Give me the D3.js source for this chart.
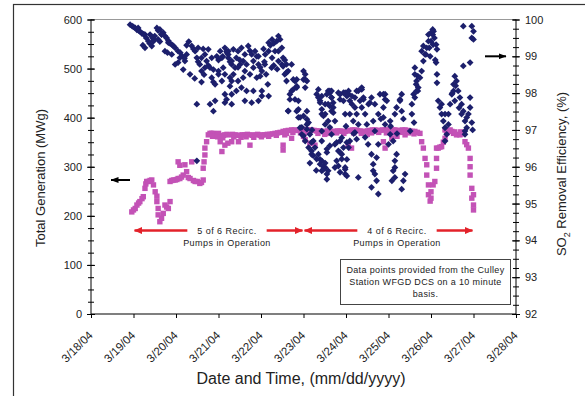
<!DOCTYPE html>
<html>
<head>
<meta charset="utf-8">
<script src="https://cdn.jsdelivr.net/npm/d3@7"></script>
<style>
  body { margin: 0; background: #fff; }
  svg { display: block; font-family: "Liberation Sans", Arial, sans-serif; }
</style>
</head>
<body>
<svg id="chart" width="585" height="396"></svg>
<script>
// ---- data ----
const dateTicks = ["3/18/04", "3/19/04", "3/20/04", "3/21/04", "3/22/04", "3/23/04",
                   "3/24/04", "3/25/04", "3/26/04", "3/27/04", "3/28/04"];
const genTicks = [0, 100, 200, 300, 400, 500, 600];
const so2Ticks = [92, 93, 94, 95, 96, 97, 98, 99, 100];

// [days since 3/18/04 00:00, MWg]
const generation = [
  [0.96,208],[1.00,212],[1.04,215],[1.08,222],[1.12,226],[1.15,229],[1.20,235],[1.23,239],[1.27,256],[1.29,265],
  [1.31,270],[1.35,270],[1.39,272],[1.43,273],[1.47,263],[1.51,249],[1.55,240],[1.55,229],[1.58,215],[1.58,202],
  [1.62,188],[1.66,195],[1.70,205],[1.74,222],[1.78,218],[1.82,215],[1.86,229],[1.86,270],[1.90,272],[1.94,273],
  [1.98,273],[2.02,274],[2.05,276],[2.09,276],[2.13,279],[2.17,283],[2.05,310],[2.09,303],[2.21,304],[2.25,290],
  [2.29,278],[2.33,276],[2.37,310],[2.41,272],[2.45,270],[2.50,270],[2.56,266],[2.60,268],[2.64,273],[2.64,297],
  [2.66,310],[2.68,324],[2.68,338],[2.72,351],[2.76,365],[2.80,368],[2.84,368],[2.88,368],[2.92,367],[2.96,366],
  [3.00,368],[3.04,351],[3.08,361],[3.08,331],[3.12,364],[3.15,365],[3.15,344],[3.20,366],[3.22,348],[3.27,365],
  [3.31,351],[3.33,366],[3.39,365],[3.45,364],[3.47,351],[3.50,364],[3.56,365],[3.62,365],[3.68,366],[3.74,365],
  [3.74,344],[3.80,364],[3.86,365],[3.92,366],[3.98,364],[4.04,365],[4.09,365],[4.15,366],[4.21,366],[4.27,367],
  [4.33,368],[4.39,369],[4.45,370],[4.52,372],[4.52,344],[4.52,334],[4.56,365],[4.58,373],[4.64,374],[4.72,375],
  [4.72,358],[4.78,375],[4.84,374],[4.90,375],[4.96,375],[5.00,362],[5.02,376],[5.04,355],[5.08,374],[5.13,375],
  [5.15,348],[5.19,375],[5.25,374],[5.27,344],[5.31,373],[5.37,373],[5.43,372],[5.50,366],[5.51,372],[5.57,373],
  [5.62,373],[5.68,372],[5.74,372],[5.80,373],[5.86,373],[5.92,372],[5.98,372],[6.04,373],[6.05,344],[6.09,374],
  [6.13,338],[6.15,375],[6.21,375],[6.27,374],[6.33,373],[6.39,372],[6.45,372],[6.50,366],[6.51,373],[6.56,374],
  [6.62,375],[6.68,375],[6.74,374],[6.80,374],[6.86,375],[6.88,351],[6.92,375],[6.92,338],[6.98,375],[7.04,376],
  [7.08,358],[7.10,375],[7.15,375],[7.20,362],[7.21,374],[7.27,374],[7.33,375],[7.39,375],[7.39,365],[7.45,374],
  [7.50,373],[7.56,372],[7.62,372],[7.68,370],[7.74,368],[7.78,351],[7.82,338],[7.86,317],[7.90,304],[7.90,283],
  [7.94,263],[7.94,243],[7.98,230],[8.00,236],[8.00,249],[8.05,263],[8.09,270],[8.13,297],[8.13,317],[8.13,338],
  [8.17,338],[8.21,340],[8.25,341],[8.29,350],[8.33,358],[8.33,375],[8.39,374],[8.45,375],[8.49,372],[8.53,368],
  [8.60,365],[8.64,366],[8.68,365],[8.72,367],[8.76,368],[8.80,351],[8.84,345],[8.88,338],[8.92,317],[8.92,300],
  [8.92,283],[8.96,256],[8.96,236],[9.00,222],[9.00,243],[9.00,212],
  [2.86,362],[2.98,361],[3.10,359],[3.36,361],[3.53,360],[3.65,361],[3.83,360],[4.01,361],[4.18,362],[4.36,364],
  [4.60,368],[4.75,370],[4.93,369],[5.10,370],[5.34,368],[5.60,368],[5.78,369],[5.95,368],[6.18,369],[6.36,368],
  [6.60,369],[6.77,370],[6.95,369],[7.13,369],[7.30,370],[7.48,369],[7.60,367],[8.37,369],[8.56,371],[8.70,371]
];

// [days since 3/18/04 00:00, SO2 removal %]
const so2Efficiency = [
  [0.92,99.86],[0.97,99.82],[1.00,99.80],[1.04,99.77],[1.08,99.72],[1.12,99.70],[1.15,99.68],[1.20,99.62],[1.24,99.60],[1.27,99.59],
  [1.30,99.50],[1.35,99.41],[1.27,99.23],[1.22,99.30],[1.43,99.28],[1.38,99.35],[1.48,99.45],[1.55,99.77],[1.58,99.70],[1.62,99.73],
  [1.66,99.60],[1.70,99.64],[1.74,99.55],[1.78,99.50],[1.58,99.46],[1.62,99.40],[1.82,99.42],[1.86,99.35],[1.90,99.32],[1.94,99.28],
  [1.98,99.23],[1.74,99.14],[1.80,99.10],[1.90,99.05],[1.98,98.78],[2.05,98.83],[2.21,98.87],[1.50,99.55],[1.45,99.50],
  [1.11,99.77],[1.39,99.59],[1.47,99.41],[1.66,99.59],[1.82,99.37],[2.05,99.14],[2.09,98.96],[2.17,98.64],[2.25,99.05],
  [2.10,99.10],[2.15,99.00],[2.20,98.95],[2.37,99.28],[2.41,99.20],[2.45,99.14],[2.49,98.96],[2.52,98.85],[2.56,98.78],[2.60,98.60],
  [2.33,98.51],[2.64,99.20],[2.68,99.05],[2.72,98.87],[2.76,98.75],[2.80,98.69],[2.84,98.42],[2.88,98.30],[2.92,98.24],[2.49,97.70],
  [2.80,97.70],[2.92,97.79],[2.88,97.51],[3.15,97.97],[3.31,97.70],[3.15,97.74],[3.04,99.14],[3.10,99.00],[3.15,99.23],[3.20,99.10],
  [3.23,98.96],[3.27,98.85],[3.31,98.78],[3.35,98.51],[3.15,98.51],[3.08,98.33],[3.31,98.33],[3.00,98.90],[2.96,99.00],[3.00,98.60],
  [2.49,96.16],[2.30,99.40],[2.25,99.30],[2.44,98.40],[2.60,98.30],[2.66,98.50],
  [2.52,99.23],[2.60,98.96],[2.68,98.69],[2.76,99.19],[2.84,98.96],[2.88,98.64],[3.00,98.51],[3.08,98.96],[3.11,98.69],[3.23,99.14],
  [3.23,99.05],[3.31,98.87],[3.46,99.14],[3.54,99.23],[3.39,98.69],[3.27,98.42],[3.31,97.97],[3.42,98.06],[3.54,98.15],[3.62,97.79],
  [3.78,97.74],[3.94,97.79],[4.02,97.92],[4.18,97.92],[3.82,98.06],[3.66,98.06],[3.70,99.28],[3.74,99.15],[3.78,99.05],[3.86,99.14],
  [3.90,99.00],[3.94,98.78],[3.98,98.70],[4.02,98.60],[4.12,98.51],[4.16,98.24],[3.90,98.42],[3.74,98.51],[3.62,98.60],[3.58,98.87],
  [3.50,98.90],[3.46,98.70],[4.18,99.37],[4.22,99.30],[4.26,99.46],[4.30,99.35],[4.37,99.41],[4.45,99.46],[4.41,99.55],[4.49,99.23],
  [4.33,99.14],[4.52,98.96],[4.56,98.90],[4.60,98.78],[4.64,98.60],[4.26,98.96],[4.41,98.87],[4.06,99.20],[4.10,99.05],[4.30,98.75],
  [4.38,98.65],[4.08,98.85],
  [3.19,99.14],[3.35,99.19],[3.42,98.96],[3.51,98.78],[3.62,99.05],[3.66,98.78],[3.82,98.87],[3.82,98.69],[3.94,99.00],[3.98,98.46],
  [4.09,98.78],[4.25,98.69],[4.18,99.14],[4.41,99.14],[4.49,98.78],[4.56,98.51],[4.60,98.33],[3.27,98.19],[3.46,98.33],[3.58,98.42],
  [4.02,98.06],[3.19,97.83],
  [4.68,97.97],[4.64,97.51],[4.72,98.06],[4.72,98.78],[4.76,98.10],[4.80,98.33],[4.84,98.15],[4.84,98.37],[4.80,97.83],[4.84,97.51],
  [4.88,97.34],[4.92,97.06],[4.96,96.88],[5.00,98.60],[5.04,98.37],[5.04,98.51],[5.00,98.37],[5.08,97.15],[5.04,96.70],[5.12,96.52],
  [5.15,96.88],[5.23,96.70],[5.27,96.52],[5.35,96.34],[5.43,96.16],[5.51,95.98],[5.55,95.66],[5.43,95.89],[5.19,96.34],[5.31,97.97],
  [5.39,97.79],[5.51,97.70],[5.58,98.06],[5.66,97.88],[5.66,97.51],[5.58,97.24],[5.51,97.43],[5.43,97.43],[5.08,97.51],[5.00,97.38],
  [5.35,98.10],[5.43,97.92],[5.62,98.01],[4.68,97.83],[5.12,97.20],[5.20,97.00],[5.47,96.00],[5.39,96.20],[5.30,95.90],[5.15,96.10],
  [4.52,98.73],[4.60,98.56],[4.76,98.37],[4.84,98.19],[5.04,98.15],[5.08,98.33],[4.64,97.52],[4.88,97.79],[4.88,97.56],[4.92,97.34],
  [4.96,97.07],[5.00,96.84],[5.08,97.29],[5.08,97.02],[5.19,96.66],[5.19,96.43],[5.23,96.30],[5.31,96.21],[5.39,96.07],[5.47,95.93],
  [5.55,95.80],[5.35,97.88],[5.39,97.74],[5.43,97.56],[5.47,97.38],[5.62,98.06],[5.66,97.88],[5.62,97.65],[5.70,97.74],[5.82,98.01],
  [5.86,97.83],[5.94,98.01],[6.02,97.92],[6.06,98.06],[6.09,97.79],[5.70,97.47],[5.78,96.66],[5.86,96.39],[5.82,96.02],[5.90,96.21],
  [6.02,96.66],[5.98,95.93],[6.02,95.75],[6.21,96.93],[6.25,96.75],[5.43,96.97],[5.43,96.70],[5.62,96.57],[5.55,96.39],
  [5.55,97.97],[5.58,97.70],[5.51,97.15],[5.66,98.06],[5.70,97.61],[5.74,97.24],[5.74,96.61],[5.82,96.43],[5.78,96.16],[5.90,96.34],
  [5.98,95.98],[5.98,95.80],[5.58,95.89],[5.55,96.48],[5.90,96.79],[5.86,97.97],[5.94,97.79],[5.98,97.43],[5.98,98.01],[6.06,97.97],
  [6.14,97.70],[6.09,97.43],[6.21,97.88],[6.29,98.06],[6.37,98.15],[6.41,97.88],[6.37,97.61],[6.25,97.43],[6.45,97.43],[6.53,97.70],
  [6.49,97.15],[6.29,97.15],[6.17,97.24],[6.09,96.70],[6.06,96.52],[6.14,97.92],[6.25,98.06],[6.37,98.10],[6.41,97.83],[6.56,97.74],
  [6.29,95.71],[6.52,96.61],[6.60,96.34],[6.64,96.07],[6.68,95.80],[6.72,95.62],[6.60,95.44],[6.76,95.26],[6.72,96.25],[6.76,96.61],
  [6.64,97.24],[6.68,96.97],[6.76,97.43],[6.88,97.61],[6.92,97.97],[6.96,97.79],[6.92,97.15],[7.04,96.88],[7.00,96.61],[7.15,97.43],
  [7.27,97.79],[7.31,97.97],[7.11,96.70],[7.19,96.34],[7.15,96.16],[7.08,95.62],[7.15,95.98],[7.39,95.80],[7.35,95.62],[7.31,95.39],
  [6.88,97.97],[6.92,97.83],[7.27,97.83],[6.02,96.20],[6.18,96.90],[6.45,96.80],[6.82,97.30],[7.05,97.10],[7.20,96.90],[7.35,97.30],
  [6.00,97.10],[5.51,96.10],[5.74,95.98],[5.86,95.85],
  [5.62,97.07],[5.66,96.88],[5.86,96.70],[5.94,96.52],[6.21,97.61],[6.33,97.79],[6.60,97.88],[6.68,97.70],[6.80,97.97],[6.88,97.34],
  [7.04,97.24],[7.19,97.61],[7.31,97.51],[6.64,95.89],[7.11,95.89],[7.15,95.71],
  [7.51,96.97],[7.55,97.43],[7.55,97.70],[7.59,97.97],[7.65,98.24],[7.69,98.46],[7.74,98.42],[7.78,98.60],[7.82,98.87],[7.88,99.05],
  [7.96,99.23],[8.00,99.41],[8.04,99.59],[8.06,99.68],[7.69,98.06],[7.62,98.51],[7.66,98.33],[7.62,97.88],[7.70,98.15],[7.86,99.05],
  [7.90,99.23],[7.94,99.41],[8.00,99.64],[8.04,99.73],[8.08,99.50],[8.12,99.32],[8.14,99.19],[8.12,98.83],[8.14,98.51],[8.14,98.28],
  [8.17,97.79],[8.21,97.61],[8.25,97.43],[8.29,97.24],[8.33,97.06],[8.33,96.70],[8.37,96.88],[8.41,97.43],[8.45,97.70],[8.49,97.97],
  [8.53,98.24],[8.56,98.46],[8.60,98.33],[8.64,98.06],[8.68,97.88],[8.72,97.70],[8.76,97.51],[8.80,97.24],[8.80,96.97],[8.84,97.06],
  [8.92,97.61],[8.88,97.43],[8.76,98.74],[8.92,98.83],[8.76,99.82],[8.96,99.82],[9.00,99.68],[8.96,99.50],[9.00,99.46],[8.92,97.88],
  [8.96,97.20],[8.98,97.00],[8.50,98.00],[8.58,98.20],[8.66,97.60],[7.98,99.00],[8.10,98.90],[7.60,97.20],
  [7.62,98.69],[7.66,98.06],[7.78,99.14],[7.82,99.28],[7.94,99.59],[8.05,99.32],[8.25,97.70],[8.33,97.43],[8.41,97.15],[8.53,98.06],
  [8.56,97.79],[8.72,97.43],[8.84,97.34],[8.80,96.88]
];

const pumpPeriods = [
  { start: 1, end: 5, labelAt: 3.2, lines: ["5 of 6 Recirc.", "Pumps in Operation"] },
  { start: 5, end: 9, labelAt: 7.2, lines: ["4 of 6 Recirc.", "Pumps in Operation"] }
];
const pumpArrowLevel = 170;   // MWg, height of the red arrows
const noteLines = ["Data points provided from the Culley", "Station WFGD DCS on a 10 minute", "basis."];
const leftPointer = 273;      // MWg
const rightPointer = 99;      // %

// ---- layout ----
const svg = d3.select("#chart");
const plot = { left: 91, right: 516, top: 19.5, bottom: 314 };
const base = Date.UTC(2004, 2, 18);
const toDate = d => new Date(base + d * 864e5);

const x = d3.scaleUtc().domain([toDate(0), toDate(10)]).range([plot.left, plot.right]);
const yGen = d3.scaleLinear().domain([0, 600]).range([plot.bottom, plot.top]);
const ySo2 = d3.scaleLinear().domain([92, 100]).range([plot.bottom, plot.top]);

// outer frame
svg.append("rect")
    .attr("x", 13.5).attr("y", 4.5)
    .attr("width", 590).attr("height", 400)
    .attr("fill", "none").attr("stroke", "#333").attr("stroke-width", 1.2);

// plot top border
svg.append("line")
    .attr("x1", plot.left).attr("x2", plot.right)
    .attr("y1", plot.top).attr("y2", plot.top)
    .attr("stroke", "#999");

// ---- points ----
svg.append("g").selectAll("rect")
    .data(generation)
    .enter().append("rect")
    .attr("x", d => x(toDate(d[0])) - 2.7)
    .attr("y", d => yGen(d[1]) - 2.7)
    .attr("width", 5.4).attr("height", 5.4)
    .attr("fill", "#c352b6");

svg.append("g").selectAll("path")
    .data(so2Efficiency)
    .enter().append("path")
    .attr("transform", d => `translate(${x(toDate(d[0]))},${ySo2(d[1])})`)
    .attr("d", "M0,-3.4L3.4,0L0,3.4L-3.4,0Z")
    .attr("fill", "#1c1f6c");

// ---- axes ----
function styleAxis(g) {
    g.select(".domain").remove();
    g.selectAll("text").attr("fill", "#222").style("font-size", "11px")
        .style("font-family", "'Liberation Sans', Arial, sans-serif");
    g.selectAll(".tick line").attr("stroke", "#000");
}

// left
const gLeftMinor = svg.append("g").attr("transform", `translate(${plot.left},0)`)
    .call(d3.axisLeft(yGen).tickValues(d3.range(0, 601, 25)).tickSize(3).tickFormat(""));
gLeftMinor.selectAll(".tick line").attr("x1", 3);
styleAxis(gLeftMinor);
const gLeft = svg.append("g").attr("transform", `translate(${plot.left},0)`)
    .call(d3.axisLeft(yGen).tickValues(genTicks).tickSize(4).tickPadding(5));
gLeft.selectAll(".tick line").attr("x1", 4);
styleAxis(gLeft);

// right
const gRightMinor = svg.append("g").attr("transform", `translate(${plot.right},0)`)
    .call(d3.axisRight(ySo2).tickValues(d3.range(92, 100.01, 0.25)).tickSize(3).tickFormat(""));
gRightMinor.selectAll(".tick line").attr("x1", -3);
styleAxis(gRightMinor);
const gRight = svg.append("g").attr("transform", `translate(${plot.right},0)`)
    .call(d3.axisRight(ySo2).tickValues(so2Ticks).tickSize(4).tickPadding(5));
gRight.selectAll(".tick line").attr("x1", -4);
styleAxis(gRight);

// bottom
const gBottom = svg.append("g").attr("transform", `translate(0,${plot.bottom})`)
    .call(d3.axisBottom(x)
        .tickValues(dateTicks.map((t, i) => toDate(i)))
        .tickSize(4)
        .tickFormat((d, i) => dateTicks[i]));
styleAxis(gBottom);
gBottom.selectAll(".tick text")
    .attr("x", 0).attr("y", 0).attr("dy", null)
    .attr("text-anchor", "end")
    .style("font-size", "11.5px")
    .attr("transform", "translate(2,22) rotate(-45)");

// axis lines
svg.append("line").attr("x1", plot.left).attr("x2", plot.left)
    .attr("y1", plot.top).attr("y2", plot.bottom).attr("stroke", "#000");
svg.append("line").attr("x1", plot.right).attr("x2", plot.right)
    .attr("y1", plot.top).attr("y2", plot.bottom).attr("stroke", "#000");
svg.append("line").attr("x1", plot.left).attr("x2", plot.right)
    .attr("y1", plot.bottom).attr("y2", plot.bottom).attr("stroke", "#000").attr("stroke-width", 1.2);

// axis titles
svg.append("text")
    .attr("transform", "translate(45,178) rotate(-90)")
    .attr("text-anchor", "middle")
    .attr("fill", "#222")
    .style("font-size", "13px")
    .text("Total Generation (MWg)");

const rTitle = svg.append("text")
    .attr("transform", "translate(566,174) rotate(-90)")
    .attr("text-anchor", "middle")
    .attr("fill", "#222")
    .style("font-size", "13px");
rTitle.append("tspan").text("SO");
rTitle.append("tspan").attr("dy", 4).style("font-size", "9px").text("2");
rTitle.append("tspan").attr("dy", -4).text(" Removal Efficiency, (%)");

svg.append("text")
    .attr("x", 301).attr("y", 384)
    .attr("text-anchor", "middle")
    .attr("fill", "#222")
    .style("font-size", "16px")
    .text("Date and Time, (mm/dd/yyyy)");

// ---- arrow markers ----
const defs = svg.append("defs");
defs.append("marker").attr("id", "redHead")
    .attr("viewBox", "0 0 8 7").attr("refX", 7.5).attr("refY", 3.5)
    .attr("markerWidth", 8).attr("markerHeight", 7)
    .attr("markerUnits", "userSpaceOnUse")
    .attr("orient", "auto-start-reverse")
    .append("path").attr("d", "M0,0L8,3.5L0,7Z").attr("fill", "#e3222a");
defs.append("marker").attr("id", "blackHead")
    .attr("viewBox", "0 0 8 6").attr("refX", 7.5).attr("refY", 3)
    .attr("markerWidth", 8).attr("markerHeight", 6)
    .attr("markerUnits", "userSpaceOnUse")
    .attr("orient", "auto")
    .append("path").attr("d", "M0,0L8,3L0,6Z").attr("fill", "#000");

// pump period annotations
const yArrow = yGen(pumpArrowLevel);
pumpPeriods.forEach(p => {
    const cx = x(toDate(p.labelAt));
    const t = svg.append("text")
        .attr("text-anchor", "middle")
        .attr("fill", "#222")
        .style("font-size", "9px")
        .style("letter-spacing", "0.45px");
    p.lines.forEach((line, i) => {
        t.append("tspan").attr("x", cx).attr("y", yArrow + 3.5 + i * 12).text(line);
    });
    const w = t.select("tspan").node().getComputedTextLength();
    const gap = w / 2 + 10;
    svg.append("line")
        .attr("x1", x(toDate(p.start)) + 1).attr("x2", cx - gap)
        .attr("y1", yArrow).attr("y2", yArrow)
        .attr("stroke", "#e3222a").attr("stroke-width", 2.4)
        .attr("marker-start", "url(#redHead)");
    svg.append("line")
        .attr("x1", cx + gap).attr("x2", x(toDate(p.end)) - 1)
        .attr("y1", yArrow).attr("y2", yArrow)
        .attr("stroke", "#e3222a").attr("stroke-width", 2.4)
        .attr("marker-end", "url(#redHead)");
});

// axis pointer arrows
svg.append("line")
    .attr("x1", 130).attr("x2", 111)
    .attr("y1", yGen(leftPointer)).attr("y2", yGen(leftPointer))
    .attr("stroke", "#000").attr("stroke-width", 2)
    .attr("marker-end", "url(#blackHead)");
svg.append("line")
    .attr("x1", 485).attr("x2", 506)
    .attr("y1", ySo2(rightPointer)).attr("y2", ySo2(rightPointer))
    .attr("stroke", "#000").attr("stroke-width", 2)
    .attr("marker-end", "url(#blackHead)");

// note box
svg.append("rect")
    .attr("x", 340.5).attr("y", 259.5)
    .attr("width", 170).attr("height", 45)
    .attr("fill", "#fff").attr("stroke", "#444");
const note = svg.append("text")
    .attr("text-anchor", "middle")
    .attr("fill", "#222")
    .style("font-size", "9px")
    .style("letter-spacing", "0.35px");
noteLines.forEach((line, i) => {
    note.append("tspan").attr("x", 425.5).attr("y", 272.5 + i * 12).text(line);
});
</script>
</body>
</html>
